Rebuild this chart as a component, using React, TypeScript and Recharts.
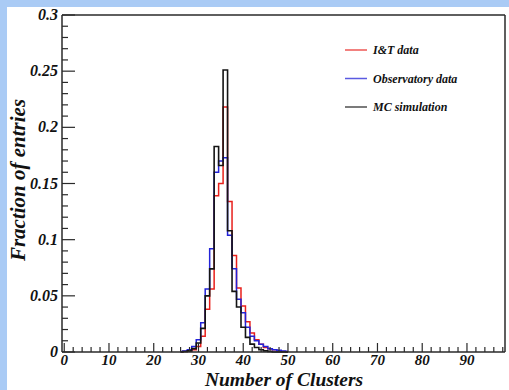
import React from "react";
import { ComposedChart, Line, XAxis, YAxis } from "recharts";

// bin centres (number of clusters) and fraction of entries per bin
const clusters = [26, 27, 28, 29, 30, 31, 32, 33, 34, 35, 36, 37, 38, 39, 40, 41, 42, 43, 44, 45, 46, 47, 48, 49, 50];
const itData = [0, 0.0005, 0.001, 0.002, 0.005, 0.014, 0.038, 0.056, 0.139, 0.15, 0.218, 0.134, 0.086, 0.057, 0.041, 0.027, 0.017, 0.011, 0.007, 0.004, 0.003, 0.002, 0.001, 0.0005, 0];
const observatoryData = [0.0005, 0.001, 0.002, 0.005, 0.011, 0.026, 0.056, 0.092, 0.16, 0.17, 0.173, 0.104, 0.074, 0.047, 0.035, 0.022, 0.014, 0.01, 0.007, 0.005, 0.003, 0.002, 0.0015, 0.001, 0.0005];
const mcData = [0, 0.0005, 0.001, 0.003, 0.008, 0.021, 0.05, 0.074, 0.183, 0.166, 0.251, 0.108, 0.054, 0.04, 0.022, 0.013, 0.007, 0.004, 0.002, 0.001, 0.0005, 0, 0, 0, 0];

const xMajorTicks = [0, 10, 20, 30, 40, 50, 60, 70, 80, 90];
const yMajorTicks = [0, 0.05, 0.1, 0.15, 0.2, 0.25, 0.3];

const seriesNames = ["I&T data", "Observatory data", "MC simulation"];
const seriesColors = ["#e8201c", "#2323d8", "#141414"];

const xMinorTicks = Array.from({ length: 50 }, (_, i) => i * 2);
const yMinorTicks = Array.from({ length: 31 }, (_, i) => i / 100);

const rows = clusters.map((c, i) => ({
  x: c,
  it: itData[i],
  obs: observatoryData[i],
  mc: mcData[i],
}));

const FONT = '"Liberation Serif", "Times New Roman", serif';
const AXIS = "#2a2a2a";

function XTick(props: any) {
  const { x, y, payload } = props;
  const major = xMajorTicks.includes(payload.value);
  return (
    <g>
      <line x1={x} x2={x} y1={y} y2={y - (major ? 9 : 5)} stroke={AXIS} strokeWidth={1.2} />
      {major && (
        <text x={x} y={y + 13} textAnchor="middle" fontFamily={FONT} fontWeight="bold" fontStyle="italic" fontSize={15} fill="#111">
          {payload.value}
        </text>
      )}
    </g>
  );
}

function YTick(props: any) {
  const { x, y, payload } = props;
  const major = yMajorTicks.some((t) => Math.abs(t - payload.value) < 1e-9);
  return (
    <g>
      <line x1={x} x2={x + (major ? 13 : 6)} y1={y} y2={y} stroke={AXIS} strokeWidth={1.2} />
      {major && (
        <text x={x - 4} y={y + 5} textAnchor="end" fontFamily={FONT} fontWeight="bold" fontStyle="italic" fontSize={16} fill="#111">
          {String(payload.value)}
        </text>
      )}
    </g>
  );
}

export default function App() {
  return (
    <div style={{ position: "absolute", left: 0, top: 0, width: 509, height: 390, background: "#aacbf5" }}>
      <div style={{ position: "absolute", left: 7, top: 7, width: 502, height: 383, background: "#fff" }} />
      <div style={{ position: "absolute", left: 0, top: 0 }}>
        <ComposedChart width={509} height={390} data={rows} margin={{ top: 14, right: 3, bottom: 37, left: 61 }}>
          <XAxis
            dataKey="x"
            type="number"
            domain={[-0.5, 98.5]}
            ticks={xMinorTicks}
            interval={0}
            tickSize={0}
            tickMargin={0}
            tickLine={false}
            tick={<XTick />}
            height={1}
            axisLine={{ stroke: AXIS, strokeWidth: 1.5 }}
          />
          <XAxis xAxisId="top" orientation="top" type="number" domain={[-0.5, 98.5]} tick={false} tickLine={false} height={1} axisLine={{ stroke: AXIS, strokeWidth: 1.5 }} />
          <YAxis
            type="number"
            domain={[0, 0.3]}
            ticks={yMinorTicks}
            interval={0}
            tickSize={0}
            tickMargin={0}
            tickLine={false}
            tick={<YTick />}
            width={1}
            axisLine={{ stroke: AXIS, strokeWidth: 1.5 }}
          />
          <YAxis yAxisId="right" orientation="right" type="number" domain={[0, 0.3]} tick={false} tickLine={false} width={1} axisLine={{ stroke: AXIS, strokeWidth: 1.5 }} />
          <Line dataKey="it" type="step" stroke={seriesColors[0]} strokeWidth={1.5} dot={false} isAnimationActive={false} />
          <Line dataKey="obs" type="step" stroke={seriesColors[1]} strokeWidth={1.5} dot={false} isAnimationActive={false} />
          <Line dataKey="mc" type="step" stroke={seriesColors[2]} strokeWidth={1.6} dot={false} isAnimationActive={false} />
        </ComposedChart>
      </div>
      <svg width={509} height={390} style={{ position: "absolute", left: 0, top: 0, pointerEvents: "none" }}>
        {seriesNames.map((name, i) => (
          <g key={name}>
            <line x1={345} x2={367} y1={50 + i * 28.5} y2={50 + i * 28.5} stroke={seriesColors[i]} strokeWidth={1.5} opacity={0.75} />
            <text x={373} y={54 + i * 28.5} fontFamily={FONT} fontWeight="bold" fontStyle="italic" fontSize={12} fill="#111">
              {name}
            </text>
          </g>
        ))}
        <text x={284} y={385.6} textAnchor="middle" fontFamily={FONT} fontWeight="bold" fontStyle="italic" fontSize={19.5} fill="#111">
          Number of Clusters
        </text>
        <text transform="translate(25,180) rotate(-90)" textAnchor="middle" fontFamily={FONT} fontWeight="bold" fontStyle="italic" fontSize={21} fill="#111">
          Fraction of entries
        </text>
      </svg>
    </div>
  );
}
